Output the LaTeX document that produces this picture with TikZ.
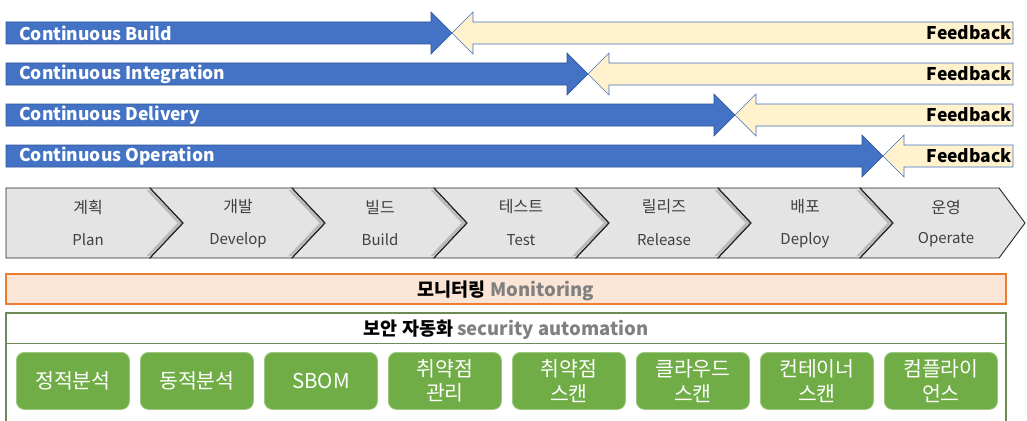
\documentclass[tikz,border=0pt]{standalone}
\usepackage{fontspec}
\setmainfont{Noto Sans CJK KR}
\definecolor{cblue}{HTML}{4472C4}
\definecolor{cblueline}{HTML}{2F5597}
\definecolor{cyellow}{HTML}{FFF2CC}
\definecolor{cgrayfill}{HTML}{E4E4E4}
\definecolor{ctext}{HTML}{3F3F3F}
\definecolor{corangefill}{HTML}{FBE5D6}
\definecolor{corange}{HTML}{ED7D31}
\definecolor{cgreen}{HTML}{70AD47}
\definecolor{cgreenline}{HTML}{9CC97E}
\definecolor{cframe}{HTML}{6E8B57}
\definecolor{cmuted}{HTML}{808080}
\tikzset{
  fwdarrow/.style={fill=cblue, draw=cblueline, line width=0.6pt},
  backarrow/.style={fill=cyellow, draw=cblue, line width=0.6pt},
  arrowlabel/.style={font=\fontsize{17.5}{20}\selectfont\bfseries, text=white, anchor=west, inner sep=0pt},
  feedlabel/.style={font=\fontsize{17.5}{20}\selectfont\bfseries, text=black, anchor=east, inner sep=0pt},
  stage/.style={fill=cgrayfill, draw=black!85, line width=0.9pt, line join=miter},
  stageshadow/.style={draw=black, opacity=0.18, line width=5pt},
  stagetextko/.style={font=\fontsize{16}{18}\selectfont, text=ctext, inner sep=0pt},
  stagetexten/.style={font=\fontsize{15}{18}\selectfont, text=ctext, inner sep=0pt},
  bandtitle/.style={font=\fontsize{18.5}{21}\selectfont\bfseries, inner sep=0pt},
  toolbox/.style={fill=cgreen, draw=cgreenline, line width=0.8pt, rounded corners=8pt,
    minimum width=113pt, minimum height=57pt, inner sep=0pt, text=white,
    font=\fontsize{20.5}{24.5}\selectfont, align=center, anchor=north west},
}
\begin{document}
\begin{tikzpicture}[x=1pt, y=-1pt]
\useasboundingbox (0,0) rectangle (1027,420);
\clip (0,0) rectangle (1027,420);
\fill[white] (0,0) rectangle (1027,420);

% delivery arrows meeting their feedback arrows
\foreach \c/\tip/\name/\lab in {33/452/build/Continuous Build,
                                74/588/integ/Continuous Integration,
                                115/735/deliv/Continuous Delivery,
                                156/883/oper/Continuous Operation}{
  \draw[fwdarrow] (6,\c-11) -- (\tip-21,\c-11) -- (\tip-21,\c-21) -- (\tip,\c)
        -- (\tip-21,\c+21) -- (\tip-21,\c+11) -- (6,\c+11) -- cycle;
  \draw[backarrow] (\tip,\c) -- (\tip+21,\c-21) -- (\tip+21,\c-11) -- (1013,\c-11)
        -- (1013,\c+11) -- (\tip+21,\c+11) -- (\tip+21,\c+21) -- cycle;
  \node[arrowlabel] (\name-l) at (19,\c) {\lab};
  \node[feedlabel] (\name-f) at (1012,\c) {Feedback};
}

% pipeline stages
\draw[stage] (6,188) -- (150,188) -- (183,223) -- (150,258) -- (6,258) -- cycle;
\foreach \k in {1,...,5}{
  \pgfmathsetmacro{\ra}{150+142*(\k-1)}
  \pgfmathsetmacro{\rb}{150+142*\k}
  \draw[stage] (\ra,188) -- (\rb,188) -- (\rb+33,223) -- (\rb,258) -- (\ra,258) -- (\ra+33,223) -- cycle;
}
\draw[stage] (860,188) -- (999,188) -- (1025,223) -- (999,258) -- (860,258) -- (893,223) -- cycle;
% soft shading left of each notch
\foreach \k in {0,...,5}{
  \pgfmathsetmacro{\rb}{150+142*\k}
  \begin{scope}
    \clip (\rb-40,190) -- (\rb,190) -- (\rb+33,223) -- (\rb,256) -- (\rb-40,256) -- cycle;
    \draw[stageshadow] (\rb-2,188) -- (\rb+31,223) -- (\rb-2,258);
  \end{scope}
  \draw[black!85, line width=0.9pt] (\rb,188) -- (\rb+33,223) -- (\rb,258);
}
\foreach \x/\ko/\en/\name in {88/계획/Plan/plan, 238/개발/Develop/dev, 380/빌드/Build/bld,
                              521/테스트/Test/test, 664/릴리즈/Release/rel,
                              805/배포/Deploy/dep, 946/운영/Operate/op}{
  \node[stagetextko] (\name-ko) at (\x,207) {\ko};
  \node[stagetexten] (\name-en) at (\x,240) {\en};
}

% monitoring band
\draw[fill=corangefill, draw=corange, line width=1.3pt] (6,274) rectangle (1006,304);
\node[bandtitle] (monitor) at (506,291) {모니터링 \textcolor{cmuted}{Monitoring}};

% security automation frame
\draw[draw=cframe, line width=1.1pt] (6,430) -- (6,313) -- (1006,313) -- (1006,430);
\draw[draw=cframe, line width=1pt] (6,343) -- (1006,343);
\node[bandtitle] (secauto) at (506,330) {보안 자동화 \textcolor{cmuted}{security automation}};

\foreach \i/\txt/\name in {0/정적분석/sast, 1/동적분석/dast, 2/SBOM/sbom,
                           3/{취약점\\관리}/vulnmgmt, 4/{취약점\\스캔}/vulnscan,
                           5/{클라우드\\스캔}/cloud, 6/{컨테이너\\스캔}/container,
                           7/{컴플라이\\언스}/compliance}{
  \node[toolbox] (\name) at (16+124*\i,352) {\txt};
}
\end{tikzpicture}
\end{document}
